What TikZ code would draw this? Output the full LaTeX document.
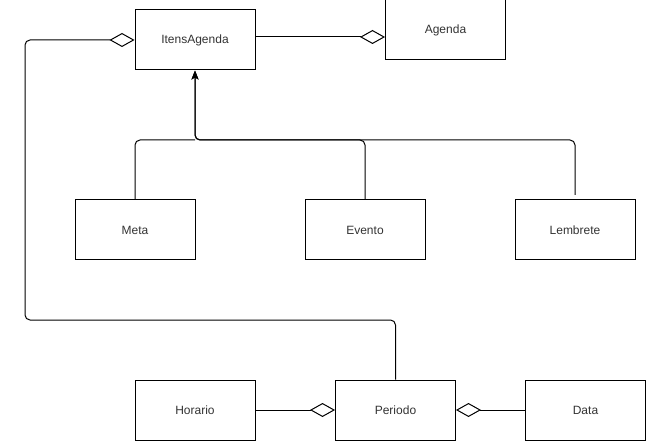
\documentclass[tikz,border=0pt]{standalone}
\usepackage{fontspec}
\setmainfont{Liberation Sans}
\usetikzlibrary{arrows.meta}

\tikzset{cbox/.style = {shape = rectangle,
                        color = black,
                        line width = 1pt,
                        inner sep = 0pt,
                        minimum width = 120pt,
                        minimum height = 60pt,
                        text = black!80,
                        font = \fontsize{12}{14}\selectfont,
                        draw},
         aggr/.style = {line width = 1pt, rounded corners = 5pt,
                        -{Diamond[open, length = 25pt, width = 14pt, fill = white]}},
         heranca/.style = {line width = 1pt, rounded corners = 5pt},
         herancaseta/.style = {heranca, -{Stealth[length = 9pt, width = 7pt, inset = 2pt]}}}

\begin{document}
\begin{tikzpicture}[x = 1pt, y = -1pt]
		\useasboundingbox (0,0) rectangle (646,441);
		\node[cbox] (itens) at (195,40) {ItensAgenda};
		\node[cbox] (agenda) at (445.5,30) {Agenda};
		\node[cbox] (meta) at (135,230) {Meta};
		\node[cbox] (evento) at (365,230) {Evento};
		\node[cbox] (lembrete) at (575,230) {Lembrete};
		\node[cbox] (horario) at (195,410) {Horario};
		\node[cbox] (periodo) at (395.5,410) {Periodo};
		\node[cbox] (data) at (585.5,410) {Data};
		\coordinate (juncao) at (195,140);
		\coordinate (lembretetopo) at (575,195);
		\coordinate (volta) at (25,320);
		% agregacoes
		\draw[aggr] (itens.east |- 0,37) -- (agenda.west |- 0,37);
		\draw[aggr] (periodo.north) |- (volta) |- (itens.west);
		\draw[aggr] (horario.east) -- (periodo.west);
		\draw[aggr] (data.west) -- (periodo.east);
		% heranca
		\draw[heranca] (meta.north) |- (juncao);
		\draw[herancaseta] (evento.north) |- (juncao) -- (itens.south);
		\draw[herancaseta] (lembretetopo) |- (juncao) -- (itens.south);
	\end{tikzpicture}
\end{document}
